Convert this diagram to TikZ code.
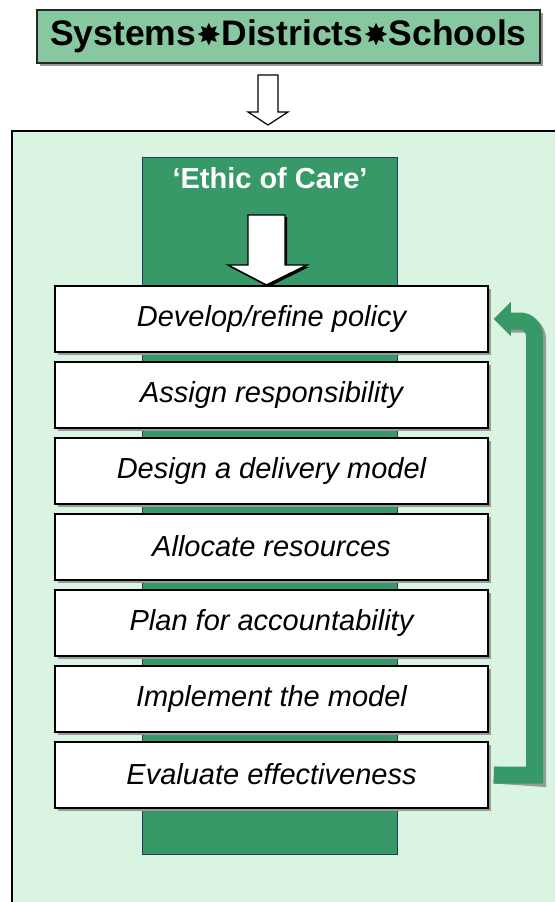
\documentclass[tikz,border=0pt]{standalone}
\usepackage{fontspec}
\setmainfont{Liberation Sans}
\newfontfamily\symfont{DejaVu Sans}
\usetikzlibrary{shadows}
\definecolor{titlegreen}{HTML}{88C8A0}
\definecolor{bggreen}{HTML}{DAF4E2}
\definecolor{colgreen}{HTML}{379968}
\definecolor{navy}{HTML}{1F3864}
\newcommand{\sepstar}{{\symfont\fontsize{30}{30}\selectfont\raisebox{0pt}{✸}}}
\begin{document}
\begin{tikzpicture}[x=1pt,y=-1pt,
  stepbox/.style={draw=black,line width=1.6pt,fill=white,minimum width=433pt,minimum height=66pt,
    inner sep=0pt,font=\fontsize{29}{30}\selectfont\itshape,
    drop shadow={shadow xshift=3pt,shadow yshift=-3pt,fill=gray!80,opacity=1}},
  titlebox/.style={draw=black!85,line width=1.6pt,fill=titlegreen,minimum width=503pt,minimum height=53pt,
    inner sep=0pt,font=\fontsize{35.5}{36}\selectfont\bfseries,
    drop shadow={shadow xshift=3pt,shadow yshift=-3pt,fill=gray!80,opacity=1}}]
\useasboundingbox (0,0) rectangle (555,902);
\fill[white] (0,0) rectangle (555,902);
% main panel
\fill[bggreen] (12,131) rectangle (555,902);
\draw[line width=1.6pt] (555,131) -- (12,131) -- (12,902);
% title
\node[titlebox] (title) at (288.5,36.5) {Systems\sepstar Districts\sepstar Schools};
% hollow arrow
\draw[line width=1.2pt,fill=white,line join=miter] (258,75) -- (278,75) -- (278,112) -- (288,112) -- (268,125) -- (248,112) -- (258,112) -- cycle;
% column
\node[draw=navy,line width=0.8pt,fill=colgreen,minimum width=255pt,minimum height=697pt,inner sep=0pt,anchor=north west] (col) at (142,157) {};
\node[text=white,font=\fontsize{29}{30}\selectfont\bfseries] (ethic) at (270,178) {‘Ethic of Care’};
% white arrow
\fill[black] (250,217) -- (287,217) -- (287,267) -- (309,267) -- (268.5,287) -- (230,267) -- (250,267) -- cycle;
\draw[black,line width=1.4pt,fill=white,line join=miter] (248,215) -- (285,215) -- (285,265) -- (307,265) -- (266.5,285) -- (228,265) -- (248,265) -- cycle;
% steps
\node[stepbox] (b1) at (271.5,319) {\raisebox{2pt}{Develop/refine policy}};
\node[stepbox] (b2) at (271.5,395) {\raisebox{2pt}{Assign responsibility}};
\node[stepbox] (b3) at (271.5,471) {\raisebox{2pt}{Design a delivery model}};
\node[stepbox] (b4) at (271.5,547) {\raisebox{2pt}{Allocate resources}};
\node[stepbox] (b5) at (271.5,623) {\raisebox{2pt}{Plan for accountability}};
\node[stepbox] (b6) at (271.5,699) {\raisebox{2pt}{Implement the model}};
\node[stepbox] (b7) at (271.5,775) {\raisebox{2pt}{Evaluate effectiveness}};
% loop arrow
\coordinate (ls) at ([xshift=5pt]b7.east);
\coordinate (le) at ([xshift=5pt]b1.east);
\begin{scope}[shift={(3,3)}]
\draw[gray!80,line width=17pt,line join=miter] (ls) -- (534.5,775) -- (534.5,336) to[out=90,in=0] (520,321) -- (508,321);
\fill[gray!80] ([xshift=17pt,yshift=-17pt]le) -- (le) -- ([xshift=17pt,yshift=17pt]le) -- cycle;
\end{scope}
\draw[colgreen,line width=17pt,line join=miter] (ls) -- (534.5,775) -- (534.5,336) to[out=90,in=0] (520,321) -- (508,321);
\fill[colgreen] ([xshift=17pt,yshift=-17pt]le) -- (le) -- ([xshift=17pt,yshift=17pt]le) -- cycle;
\end{tikzpicture}
\end{document}
